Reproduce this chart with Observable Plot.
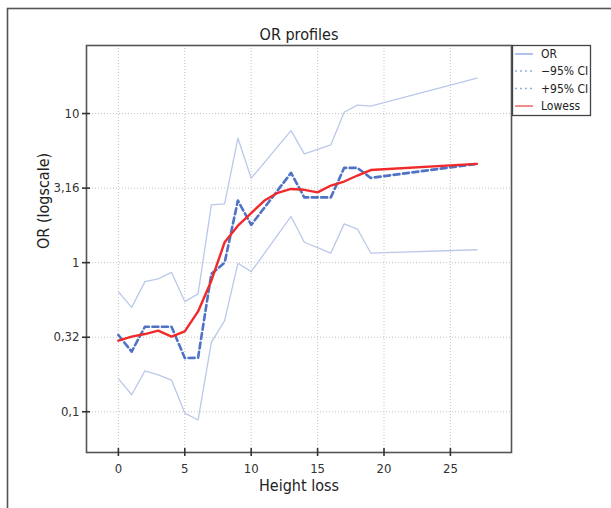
<!DOCTYPE html>
<html>
<head>
<meta charset="utf-8">
<script src="https://cdn.jsdelivr.net/npm/d3@7"></script>
<script src="https://cdn.jsdelivr.net/npm/@observablehq/plot@0.6"></script>
<style>
  html, body { margin: 0; padding: 0; background: #fff; }
  #chart svg { display: block; }
</style>
</head>
<body>
<div id="chart"></div>
<script>
// ---- data ----
const ciX      = [0, 1, 2, 3, 4, 5, 6, 7, 8, 9, 10, 13, 14, 16, 17, 18, 19, 27];
const orValues = [0.327, 0.253, 0.372, 0.372, 0.372, 0.229, 0.230, 0.84, 1.0, 2.61, 1.79, 4.0, 2.74, 2.74, 4.32, 4.32, 3.70, 4.60];
const upperCI  = [0.639, 0.501, 0.746, 0.778, 0.861, 0.548, 0.617, 2.44, 2.48, 6.83, 3.68, 7.69, 5.37, 6.17, 10.2, 11.4, 11.2, 17.3];
const lowerCI  = [0.167, 0.130, 0.188, 0.177, 0.163, 0.098, 0.088, 0.292, 0.408, 0.99, 0.87, 2.04, 1.37, 1.16, 1.82, 1.68, 1.16, 1.22];
const lowessX  = [0, 1, 2, 3, 4, 5, 6, 7, 8, 9, 10, 11, 12, 13, 14, 15, 16, 17, 18, 19, 27];
const lowessY  = [0.300, 0.319, 0.332, 0.350, 0.319, 0.346, 0.471, 0.757, 1.37, 1.77, 2.15, 2.61, 2.94, 3.12, 3.08, 2.96, 3.29, 3.50, 3.84, 4.18, 4.60];
const xTicks = [0, 5, 10, 15, 20, 25];
const yTicks = [0.1, 0.316, 1, 3.16, 10];
const yTickLabels = ["0,1", "0,32", "1", "3,16", "10"];
const legendLabels = ["OR", "\u221295% CI", "+95% CI", "Lowess"];
const title = "OR profiles";
const xLabel = "Height loss";
const yLabel = "OR (logscale)";

const FONT = "'Liberation Sans Narrow', 'DejaVu Sans Condensed', Roboto, sans-serif";
const mk = (xs, ys) => xs.map((x, i) => ({x, y: ys[i]}));
const orData = mk(ciX, orValues);
const upData = mk(ciX, upperCI);
const loData = mk(ciX, lowerCI);
const lwData = mk(lowessX, lowessY);
const yLab = new Map(yTicks.map((t, i) => [t, yTickLabels[i]]));

const W = 611, H = 508;
const svg = Plot.plot({
  width: W, height: H,
  marginLeft: 86, marginTop: 45, marginRight: 100, marginBottom: 56,
  style: {fontFamily: FONT, fontSize: "12px", color: "#333", background: "#fff"},
  x: {domain: [-2.4, 29.6]},
  y: {type: "log", domain: [0.0533, 28.6]},
  marks: [
    Plot.gridX(xTicks, {stroke: "#c4c4c4", strokeOpacity: 1, strokeDasharray: "1,2"}),
    Plot.gridY(yTicks, {stroke: "#c4c4c4", strokeOpacity: 1, strokeDasharray: "1,2"}),
    Plot.line(upData, {x: "x", y: "y", stroke: "#bcc8ea", strokeWidth: 1.3}),
    Plot.line(loData, {x: "x", y: "y", stroke: "#bcc8ea", strokeWidth: 1.3}),
    Plot.line(orData, {x: "x", y: "y", stroke: "#4f72c4", strokeWidth: 2.6, strokeDasharray: "6,3.5"}),
    Plot.line(lwData, {x: "x", y: "y", stroke: "#f02a2a", strokeWidth: 2.4}),
    Plot.frame({stroke: "#555", strokeWidth: 1.6}),
    // tick marks crossing the frame
    Plot.axisX(xTicks, {tickSize: 8, dy: -4, tickFormat: () => "", label: null, stroke: "#333", strokeWidth: 1.6}),
    Plot.axisX(xTicks, {tickSize: 0, tickPadding: 11, label: null, fontSize: 13, fill: "#333"}),
    Plot.axisY(yTicks, {tickSize: 8, dx: 4, tickFormat: () => "", label: null, stroke: "#333", strokeWidth: 1.6}),
    Plot.axisY(yTicks, {tickSize: 0, tickPadding: 7, tickFormat: d => yLab.get(d), label: null, fontSize: 13, fill: "#333"}),
    Plot.text([title], {frameAnchor: "top", dy: -17, fontSize: 16, fill: "#222"}),
    Plot.text([xLabel], {frameAnchor: "bottom", dy: 38, fontSize: 16, fill: "#222"}),
    Plot.text([yLabel], {frameAnchor: "left", dx: -43, rotate: -90, fontSize: 16, fill: "#222"})
  ]
});
document.getElementById("chart").appendChild(svg);

// outer frame and legend decoration
const s = d3.select(svg);
s.append("rect").attr("x", 7.5).attr("y", 8.5).attr("width", 700).attr("height", 600)
  .attr("fill", "none").attr("stroke", "#555").attr("stroke-width", 1.6);
const lg = s.append("g");
lg.append("rect").attr("x", 512.5).attr("y", 45.5).attr("width", 78).attr("height", 70)
  .attr("fill", "#fff").attr("stroke", "#444").attr("stroke-width", 1.3);
const legendStyles = [
  {stroke: "#98add f".replace(" ", ""), dash: null, w: 1.5},
  {stroke: "#98addf", dash: "2,3", w: 1.5},
  {stroke: "#98addf", dash: "2,3", w: 1.5},
  {stroke: "#f28080", dash: null, w: 1.8}
];
const legendY = [54, 71, 88.5, 106];
legendLabels.forEach((t, i) => {
  const st = legendStyles[i];
  lg.append("line").attr("x1", 515).attr("x2", 533).attr("y1", legendY[i]).attr("y2", legendY[i])
    .attr("stroke", st.stroke).attr("stroke-width", st.w).attr("stroke-dasharray", st.dash);
  lg.append("text").attr("x", 541).attr("y", legendY[i]).attr("dy", "0.35em")
    .attr("text-anchor", "start")
    .attr("font-family", FONT).attr("font-size", 12).attr("fill", "#222").text(t);
});
</script>
</body>
</html>
